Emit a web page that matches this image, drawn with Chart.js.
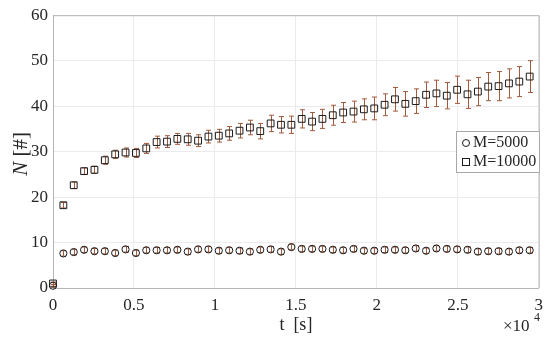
<!DOCTYPE html>
<html>
<head>
<meta charset="utf-8">
<script src="https://cdn.jsdelivr.net/npm/chart.js@4/dist/chart.umd.min.js"></script>
<style>
  body { margin: 0; background: #fff; }
</style>
</head>
<body>
<canvas id="chart" width="550" height="342"></canvas>
<script>
// sample times [s]
let times = [0, 640, 1280, 1920, 2560, 3200, 3840, 4480, 5120, 5760,
    6400, 7040, 7680, 8320, 8960, 9600, 10240, 10880, 11520, 12160,
    12800, 13440, 14080, 14720, 15360, 16000, 16640, 17280, 17920, 18560,
    19200, 19840, 20480, 21120, 21760, 22400, 23040, 23680, 24320, 24960,
    25600, 26240, 26880, 27520, 28160, 28800, 29440];

let m5000 = [0.5, 7.6, 7.9, 8.4, 8.1, 8.1, 7.7, 8.5, 7.7, 8.3,
    8.3, 8.3, 8.4, 8.0, 8.5, 8.5, 8.2, 8.3, 8.2, 8.0,
    8.4, 8.5, 8.0, 9.0, 8.6, 8.6, 8.6, 8.4, 8.3, 8.6,
    8.2, 8.2, 8.4, 8.4, 8.3, 8.7, 8.2, 8.7, 8.6, 8.5,
    8.4, 8.0, 8.1, 8.1, 8.0, 8.3, 8.3];
let m5000Err = [0.3, 0.6, 0.6, 0.6, 0.6, 0.6, 0.6, 0.6, 0.6, 0.6,
    0.6, 0.6, 0.6, 0.6, 0.6, 0.6, 0.6, 0.6, 0.6, 0.6,
    0.6, 0.6, 0.6, 0.6, 0.6, 0.6, 0.6, 0.6, 0.6, 0.6,
    0.6, 0.6, 0.6, 0.6, 0.6, 0.6, 0.6, 0.6, 0.6, 0.6,
    0.6, 0.6, 0.6, 0.6, 0.6, 0.6, 0.6];

let m10000 = [1.0, 18.2, 22.6, 25.7, 26.0, 28.1, 29.4, 29.8, 29.7, 30.7,
    32.1, 32.2, 32.8, 32.7, 32.4, 33.3, 33.5, 34.0, 34.6, 35.3,
    34.5, 36.2, 35.9, 35.9, 37.2, 36.6, 37.2, 38.0, 38.6, 38.8,
    39.3, 39.5, 40.3, 41.5, 40.5, 41.1, 42.5, 42.8, 42.3, 43.6,
    42.6, 43.2, 44.3, 44.4, 45.0, 45.4, 46.5];
let m10000Err = [0.3, 0.6, 0.7, 0.7, 0.8, 0.9, 0.9, 1.0, 1.0, 1.1,
    1.3, 1.3, 1.2, 1.3, 1.3, 1.4, 1.4, 1.5, 1.6, 1.6,
    1.7, 1.8, 1.8, 1.9, 2.0, 2.0, 2.1, 2.2, 2.2, 2.3,
    2.3, 2.5, 2.4, 2.6, 2.7, 2.7, 2.8, 2.9, 2.9, 3.0,
    3.1, 3.1, 3.1, 3.2, 3.2, 3.3, 3.5];

let xTicks = [0, 5000, 10000, 15000, 20000, 25000, 30000];
let seriesNames = ['M=5000', 'M=10000'];

let serif = '"Liberation Serif", "DejaVu Serif", serif';
let textColor = '#262626';
let barColor = '#a35a3c';
let axisColor = '#b5b5b5';

// draws the vertical error bars under the markers
let errorBars = {
    id: 'errorBars',
    beforeDatasetsDraw(chart) {
        let ctx = chart.ctx;
        let x = chart.scales.x, y = chart.scales.y;
        chart.data.datasets.forEach(ds => {
            ctx.save();
            ctx.strokeStyle = barColor;
            ctx.lineWidth = 1;
            ds.data.forEach((p, i) => {
                let px = Math.round(x.getPixelForValue(p.x)) + 0.5;
                let top = y.getPixelForValue(p.y + ds.err[i]);
                let bot = y.getPixelForValue(p.y - ds.err[i]);
                ctx.beginPath();
                ctx.moveTo(px, top);
                ctx.lineTo(px, bot);
                ctx.moveTo(px - 2.5, top);
                ctx.lineTo(px + 2.5, top);
                ctx.moveTo(px - 2.5, bot);
                ctx.lineTo(px + 2.5, bot);
                ctx.stroke();
            });
            ctx.restore();
        });
    }
};

// box, y label, exponent and legend like in matlab
let extras = {
    id: 'extras',
    afterDraw(chart) {
        let ctx = chart.ctx;
        let a = chart.chartArea;
        ctx.save();
        ctx.strokeStyle = axisColor;
        ctx.lineWidth = 1;
        ctx.beginPath();
        ctx.moveTo(a.left, a.top + 0.5);
        ctx.lineTo(a.right + 0.5, a.top + 0.5);
        ctx.lineTo(a.right + 0.5, a.bottom);
        ctx.stroke();

        // y axis title: italic N
        ctx.fillStyle = textColor;
        ctx.translate(27, 154);
        ctx.rotate(-Math.PI / 2);
        ctx.textBaseline = 'alphabetic';
        ctx.font = 'italic 21px ' + serif;
        let wN = ctx.measureText('N').width;
        ctx.font = '21px ' + serif;
        let wRest = ctx.measureText(' [#]').width;
        let start = -(wN + wRest) / 2;
        ctx.font = 'italic 21px ' + serif;
        ctx.textAlign = 'left';
        ctx.fillText('N', start, 0);
        ctx.font = '21px ' + serif;
        ctx.fillText(' [#]', start + wN, 0);
        ctx.setTransform(1, 0, 0, 1, 0, 0);

        // x10^4
        ctx.font = '17px ' + serif;
        ctx.textAlign = 'left';
        ctx.fillText('\u00d710', 503, 331);
        ctx.font = '12px ' + serif;
        ctx.fillText('4', 534, 321);

        // legend
        let lx = 456, ly = 131, lw = 83, lh = 41;
        ctx.fillStyle = '#fff';
        ctx.fillRect(lx, ly, lw, lh);
        ctx.strokeStyle = '#a8a8a8';
        ctx.strokeRect(lx + 0.5, ly + 0.5, lw, lh);
        ctx.strokeStyle = '#1a1a1a';
        ctx.beginPath();
        ctx.arc(466, 143, 3.5, 0, Math.PI * 2);
        ctx.stroke();
        ctx.strokeRect(462.5, 158.5, 7, 7);
        ctx.fillStyle = textColor;
        ctx.font = '16px ' + serif;
        ctx.textBaseline = 'middle';
        ctx.fillText(seriesNames[0], 473, 143);
        ctx.fillText(seriesNames[1], 473, 162);
        ctx.restore();
    }
};

new Chart(document.getElementById('chart'), {
    type: 'scatter',
    data: {
        datasets: [{
            label: seriesNames[0],
            data: times.map((t, i) => ({x: t, y: m5000[i]})),
            err: m5000Err,
            pointStyle: 'circle',
            pointRadius: 3.6,
            borderColor: '#1a1a1a',
            backgroundColor: 'transparent',
            borderWidth: 1,
            clip: false
        }, {
            label: seriesNames[1],
            data: times.map((t, i) => ({x: t, y: m10000[i]})),
            err: m10000Err,
            pointStyle: 'rect',
            pointRadius: 4.8,
            borderColor: '#1a1a1a',
            backgroundColor: 'transparent',
            borderWidth: 1,
            clip: false
        }]
    },
    options: {
        responsive: false,
        animation: false,
        layout: {padding: {top: 13, right: 9, left: 0, bottom: 0}},
        plugins: {
            legend: {display: false},
            tooltip: {enabled: false}
        },
        scales: {
            x: {
                type: 'linear',
                min: 0,
                max: 30000,
                afterBuildTicks: s => { s.ticks = xTicks.map(v => ({value: v})); },
                afterFit: s => { s.height = 54; },
                grid: {color: '#ebebeb', drawTicks: false},
                border: {color: axisColor},
                ticks: {
                    padding: 7,
                    color: textColor,
                    font: {family: serif, size: 17},
                    callback: v => String(v / 10000)
                },
                title: {
                    display: true,
                    text: 't  [s]',
                    color: textColor,
                    font: {family: serif, size: 18},
                    padding: {top: 0, bottom: 6}
                }
            },
            y: {
                min: 0,
                max: 60,
                afterFit: s => { s.width = 53; },
                grid: {color: '#ebebeb', drawTicks: false},
                border: {color: axisColor},
                ticks: {
                    stepSize: 10,
                    padding: 5,
                    color: textColor,
                    font: {family: serif, size: 17}
                }
            }
        }
    },
    plugins: [errorBars, extras]
});
</script>
</body>
</html>
